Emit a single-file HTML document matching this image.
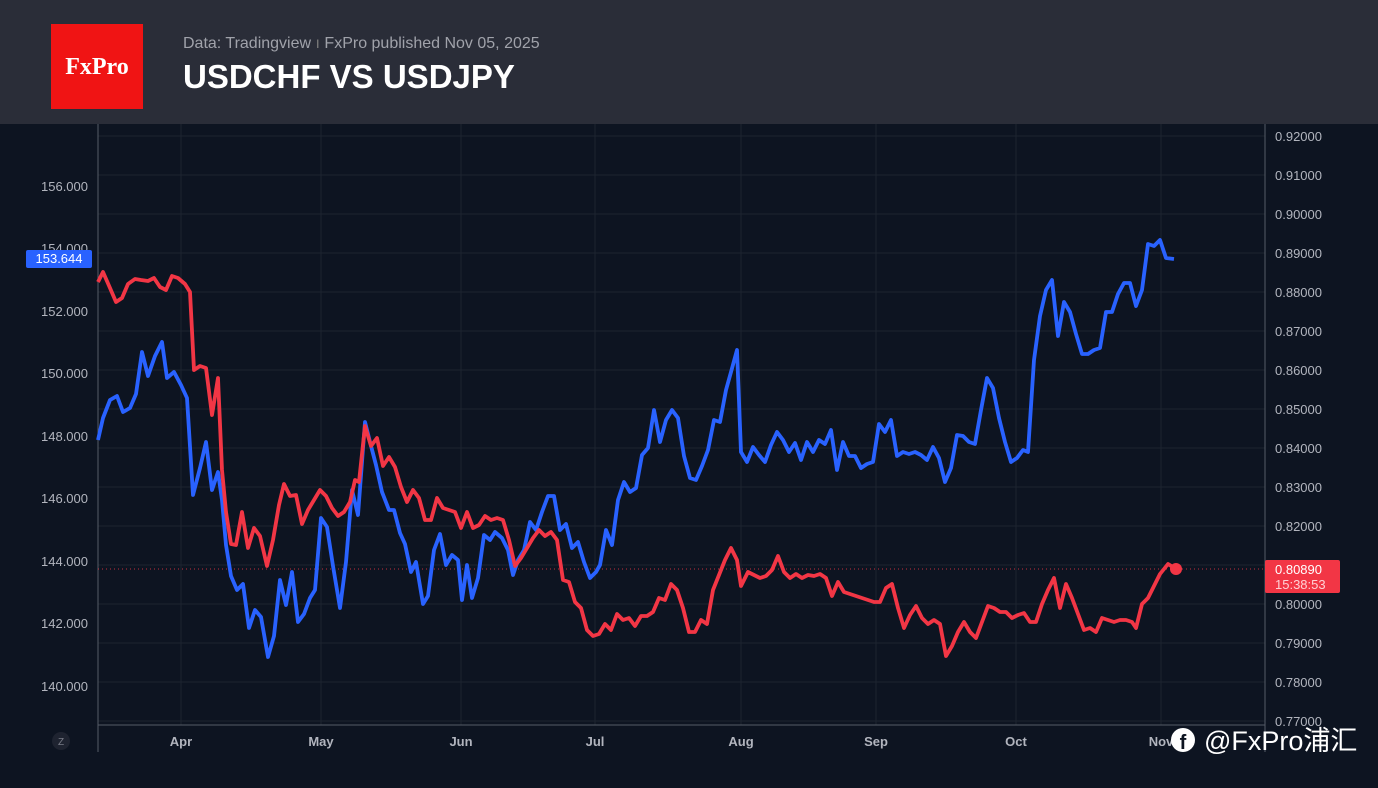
<!DOCTYPE html>
<html><head><meta charset="utf-8"><style>
body{margin:0;width:1378px;height:788px;overflow:hidden;background:#0d1421;font-family:"Liberation Sans","Noto Sans CJK SC",sans-serif}
</style></head><body>
<svg width="1378" height="788" xmlns="http://www.w3.org/2000/svg" style="position:absolute;left:0;top:0">
<rect width="1378" height="788" fill="#0d1421"/>
<g stroke="#1d2430" stroke-width="1">
<line x1="98" x2="1265" y1="136" y2="136"/><line x1="98" x2="1265" y1="175" y2="175"/><line x1="98" x2="1265" y1="214" y2="214"/><line x1="98" x2="1265" y1="253" y2="253"/><line x1="98" x2="1265" y1="292" y2="292"/><line x1="98" x2="1265" y1="331" y2="331"/><line x1="98" x2="1265" y1="370" y2="370"/><line x1="98" x2="1265" y1="409" y2="409"/><line x1="98" x2="1265" y1="448" y2="448"/><line x1="98" x2="1265" y1="487" y2="487"/><line x1="98" x2="1265" y1="526" y2="526"/><line x1="98" x2="1265" y1="565" y2="565"/><line x1="98" x2="1265" y1="604" y2="604"/><line x1="98" x2="1265" y1="643" y2="643"/><line x1="98" x2="1265" y1="682" y2="682"/><line x1="98" x2="1265" y1="721" y2="721"/>
<line x1="181" x2="181" y1="124" y2="725"/><line x1="321" x2="321" y1="124" y2="725"/><line x1="461" x2="461" y1="124" y2="725"/><line x1="595" x2="595" y1="124" y2="725"/><line x1="741" x2="741" y1="124" y2="725"/><line x1="876" x2="876" y1="124" y2="725"/><line x1="1016" x2="1016" y1="124" y2="725"/><line x1="1161" x2="1161" y1="124" y2="725"/>
</g>
<line x1="98" x2="98" y1="124" y2="752" stroke="#555b66"/>
<line x1="1265" x2="1265" y1="124" y2="752" stroke="#555b66"/>
<line x1="98" x2="1265" y1="725" y2="725" stroke="#555b66"/>
<line x1="98" x2="1265" y1="569" y2="569" stroke="#f23645" stroke-dasharray="1,3" opacity="0.8"/>
<g font-size="13" fill="#b2b5be" text-anchor="end">
<text x="88" y="191">156.000</text><text x="88" y="253">154.000</text><text x="88" y="316">152.000</text><text x="88" y="378">150.000</text><text x="88" y="441">148.000</text><text x="88" y="503">146.000</text><text x="88" y="566">144.000</text><text x="88" y="628">142.000</text><text x="88" y="691">140.000</text>
</g>
<g font-size="13" fill="#b2b5be">
<text x="1275" y="141">0.92000</text><text x="1275" y="180">0.91000</text><text x="1275" y="219">0.90000</text><text x="1275" y="258">0.89000</text><text x="1275" y="297">0.88000</text><text x="1275" y="336">0.87000</text><text x="1275" y="375">0.86000</text><text x="1275" y="414">0.85000</text><text x="1275" y="453">0.84000</text><text x="1275" y="492">0.83000</text><text x="1275" y="531">0.82000</text><text x="1275" y="609">0.80000</text><text x="1275" y="648">0.79000</text><text x="1275" y="687">0.78000</text><text x="1275" y="726">0.77000</text>
</g>
<g font-size="13" fill="#b2b5be" font-weight="bold" text-anchor="middle">
<text x="181" y="746">Apr</text><text x="321" y="746">May</text><text x="461" y="746">Jun</text><text x="595" y="746">Jul</text><text x="741" y="746">Aug</text><text x="876" y="746">Sep</text><text x="1016" y="746">Oct</text><text x="1161" y="746">Nov</text>
</g>
<circle cx="61" cy="741" r="9" fill="#1e2330"/><text x="61" y="745" font-size="10" fill="#787b86" text-anchor="middle">Z</text>
<polyline fill="none" stroke="#2962ff" stroke-width="3.8" stroke-linejoin="round" points="98,440 103,418 110,400 117,396 123,412 130,408 136,394 142,352 148,376 155,356 162,342 167,378 174,372 181,385 187,398 193,495 200,468 206,442 212,490 218,472 222,500 226,545 231,576 237,590 243,584 249,628 255,610 261,617 268,657 274,636 280,580 286,605 292,572 298,622 304,614 310,598 315,590 321,518 327,527 333,566 340,608 346,562 352,490 358,515 365,422 370,442 376,465 382,492 389,510 394,510 400,533 405,544 411,572 416,562 423,604 428,596 434,550 440,534 446,565 452,555 458,560 462,600 467,565 472,598 478,578 484,535 490,540 495,532 502,538 508,550 513,575 518,560 524,550 530,522 536,530 542,512 548,496 554,496 560,530 566,524 572,548 578,542 584,562 590,578 596,572 600,565 606,530 612,545 618,500 624,482 630,492 636,488 642,455 648,448 654,410 660,442 666,420 672,410 678,418 684,456 690,478 696,480 702,466 708,450 714,420 720,422 726,390 731,372 737,350 741,452 747,462 753,447 759,455 765,462 771,445 777,432 783,440 789,452 795,443 801,460 807,442 813,452 819,440 825,444 831,430 837,470 843,442 849,456 855,456 861,468 867,464 873,462 879,424 885,432 891,420 897,456 903,452 909,454 915,452 921,455 927,460 933,447 939,458 945,482 951,468 957,435 963,436 969,442 975,444 981,410 987,378 993,388 999,418 1005,442 1011,462 1017,458 1023,450 1028,452 1034,360 1040,316 1046,290 1052,280 1058,336 1064,302 1070,312 1076,334 1082,354 1088,354 1094,350 1100,348 1106,312 1112,312 1118,294 1124,283 1130,283 1136,306 1142,290 1148,244 1154,246 1160,240 1166,258 1174,259"/>
<polyline fill="none" stroke="#f23645" stroke-width="3.8" stroke-linejoin="round" points="98,282 103,272 110,288 116,302 122,298 128,284 135,279 141,280 148,281 154,278 160,287 166,290 172,276 178,278 185,284 190,292 194,370 200,366 206,368 212,415 218,378 222,470 226,512 231,544 236,545 242,512 248,548 254,528 260,536 267,566 273,540 279,505 284,484 290,496 296,495 302,524 308,510 314,500 320,490 326,496 332,508 338,516 344,512 350,502 355,480 359,482 365,426 371,446 377,438 383,466 389,457 395,467 401,487 407,502 413,490 419,498 425,520 431,520 437,498 443,508 449,510 455,512 461,528 467,512 473,528 479,525 485,516 491,520 497,518 503,520 509,540 515,566 521,558 527,548 533,538 539,530 545,536 551,532 557,540 563,580 569,582 575,602 581,608 587,630 593,636 599,634 605,624 611,630 617,614 623,620 629,618 635,626 641,616 647,616 653,612 659,598 665,600 671,584 677,590 683,608 689,632 695,632 701,620 707,624 713,590 719,575 725,560 731,548 737,560 741,586 748,572 754,575 760,578 766,576 772,570 778,556 784,572 790,578 796,574 802,578 808,575 814,576 820,574 826,578 832,596 838,582 844,592 850,594 856,596 862,598 868,600 874,602 880,602 886,588 892,584 898,608 904,628 910,615 916,606 922,618 928,624 934,620 940,624 946,656 952,646 958,632 964,622 970,632 976,638 982,622 988,606 994,608 1000,612 1006,612 1012,618 1018,615 1024,613 1030,622 1036,622 1042,604 1048,590 1054,578 1060,608 1066,584 1072,598 1078,614 1084,630 1090,628 1096,632 1102,618 1108,620 1114,622 1120,620 1126,620 1132,622 1136,628 1142,604 1148,598 1154,586 1160,574 1168,564 1176,569"/>
<circle cx="1176" cy="569" r="6" fill="#f23645"/>
<rect x="1265" y="560" width="75" height="33" rx="2" fill="#f23645"/>
<text x="1275" y="574" font-size="13" fill="#fff">0.80890</text>
<text x="1275" y="589" font-size="13" fill="#ffd0d4">15:38:53</text>
<rect x="26" y="250" width="66" height="18" rx="2" fill="#2962ff"/>
<text x="59" y="263" font-size="13" fill="#fff" text-anchor="middle">153.644</text>
<rect x="0" y="0" width="1378" height="124" fill="#2a2d38"/>
<rect x="51" y="24" width="92" height="85" fill="#f01414"/>
<text x="97" y="74" font-family="Liberation Serif,serif" font-size="24" font-weight="bold" fill="#fff" text-anchor="middle">FxPro</text>
<text x="183" y="48" font-size="16" fill="#a0a2aa">Data: Tradingview  <tspan fill="#777">ı</tspan> FxPro published Nov 05, 2025</text>
<text x="183" y="88" font-size="33" font-weight="bold" fill="#fff">USDCHF VS USDJPY</text>
<circle cx="1183" cy="740" r="12" fill="#fff"/>
<text x="1183" y="749" font-size="20" font-weight="bold" fill="#0d1421" text-anchor="middle">f</text>
<text x="1204" y="750" font-size="27" fill="#fff">@FxPro浦汇</text>
</svg>
</body></html>
